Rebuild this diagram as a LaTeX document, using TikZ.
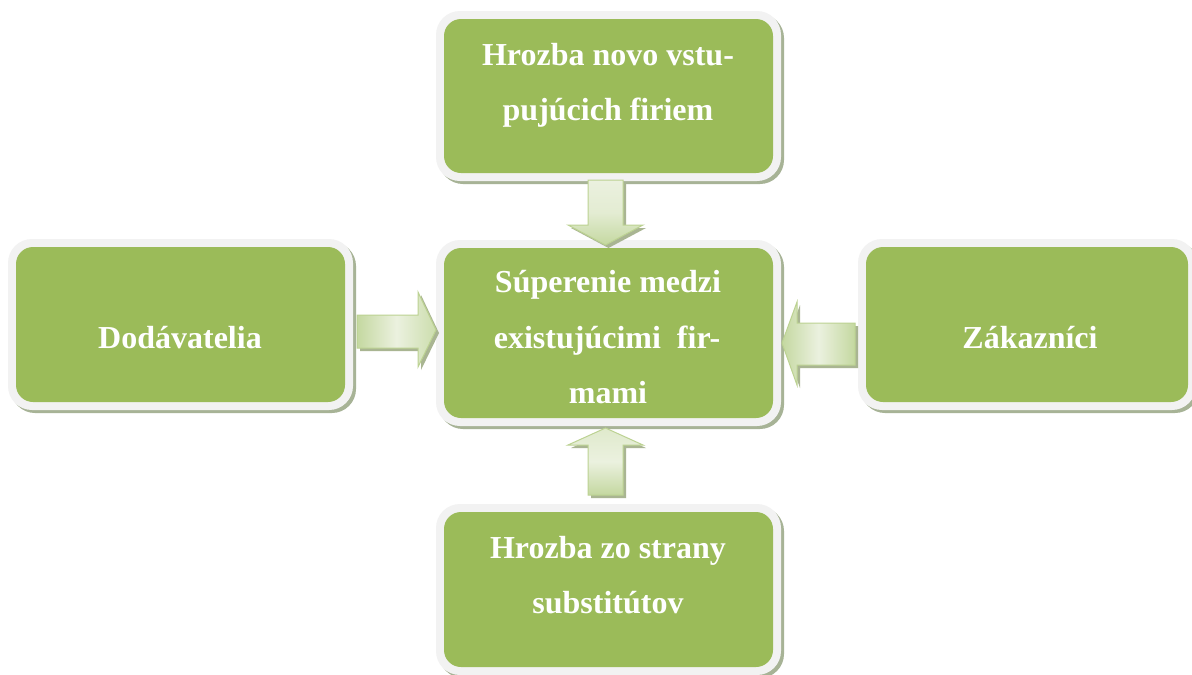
\documentclass[tikz,border=0pt]{standalone}
\usepackage{fontspec}
\setmainfont{Liberation Serif}
\definecolor{boxgreen}{HTML}{9BBB59}
\definecolor{borderc}{HTML}{F2F2F2}
\definecolor{shadowc}{HTML}{A7B396}
\definecolor{arrlight}{HTML}{EBF1DF}
\definecolor{arrdark}{HTML}{C4D8A0}
\definecolor{arrline}{HTML}{BCD292}
\definecolor{arrshadow}{HTML}{A9B592}
\newcommand\mybox[5]{% name x1 y1 x2 y2
  \fill[shadowc, rounded corners=24pt] (#2-5,#3-5) rectangle (#4+11,#5+11);
  \fill[borderc, rounded corners=24pt] (#2-8,#3-8) rectangle (#4+8,#5+8);
  \node[greenbox, minimum width=#4-#2, minimum height=#5-#3] (#1) at ({(#2+#4)/2},{(#3+#5)/2}) {};
}
\begin{document}
\begin{tikzpicture}[x=1pt,y=-1pt,
  greenbox/.style={fill=boxgreen, rounded corners=17pt, inner sep=0pt, draw=none},
  lbl/.style={text=white, font=\fontsize{32}{38}\selectfont\bfseries, anchor=base, inner sep=0pt},
  arrowshape/.style={draw=arrline, line width=1pt, line join=miter},
  arrowshadow/.style={fill=arrshadow}
]
\useasboundingbox (0,0) rectangle (1192,675);
\clip (0,0) rectangle (1192,675);
\fill[white] (0,0) rectangle (1192,675);

% boxes
\mybox{top}{444}{19}{773}{173}
\mybox{center}{444}{248}{773}{418}
\mybox{left}{16}{247}{345}{402}
\mybox{right}{866}{247}{1188}{402}
\mybox{bottom}{444}{512}{773}{667}

% texts
\node[lbl] (t1) at (608,65) {Hrozba novo vstu-};
\node[lbl] (t2) at (608,120) {pujúcich firiem};
\node[lbl] (c1) at (608,292) {Súperenie medzi};
\node[lbl] (c2) at (607,348) {existujúcimi\ \ fir-};
\node[lbl] (c3) at (608,403) {mami};
\node[lbl] (l1) at (180,348) {Dodávatelia};
\node[lbl] (r1) at (1030,348) {Zákazníci};
\node[lbl] (b1) at (608,558) {Hrozba zo strany};
\node[lbl] (b2) at (608,613) {substitútov};

% arrow: top -> center (down)
\fill[arrowshadow] (591,183) -- (626,183) -- (626,228) -- (646,228) -- (608.5,248) -- (571,228) -- (591,228) -- cycle;
\draw[arrowshape, top color=arrlight, bottom color=arrdark, middle color=arrlight!80!arrdark]
  (588,180) -- (623,180) -- (623,225) -- (643,225) -- (605.5,245) -- (568,225) -- (588,225) -- cycle;

% arrow: bottom -> center (up)
\fill[arrowshadow] (591,498) -- (626,498) -- (626,448) -- (646,448) -- (608.5,431) -- (571,448) -- (591,448) -- cycle;
\draw[arrowshape, top color=arrlight!70!arrdark, bottom color=arrdark, middle color=arrlight]
  (588,495) -- (623,495) -- (623,445) -- (643,445) -- (605.5,428) -- (568,445) -- (588,445) -- cycle;

% arrow: left -> center (right)
\fill[arrowshadow] (360,318) -- (421,318) -- (421,295) -- (439,333) -- (421,370) -- (421,351) -- (360,351) -- cycle;
\draw[arrowshape, left color=arrdark, right color=arrdark!80!arrlight, middle color=arrlight]
  (357,315) -- (418,315) -- (418,292) -- (436,330) -- (418,367) -- (418,348) -- (357,348) -- cycle;

% arrow: right -> center (left)
\fill[arrowshadow] (858,326) -- (800,326) -- (800,305) -- (785,346) -- (800,388) -- (800,368) -- (858,368) -- cycle;
\draw[arrowshape, left color=arrdark, right color=arrdark, middle color=arrlight]
  (855,323) -- (797,323) -- (797,302) -- (782,343) -- (797,385) -- (797,365) -- (855,365) -- cycle;
\end{tikzpicture}
\end{document}
